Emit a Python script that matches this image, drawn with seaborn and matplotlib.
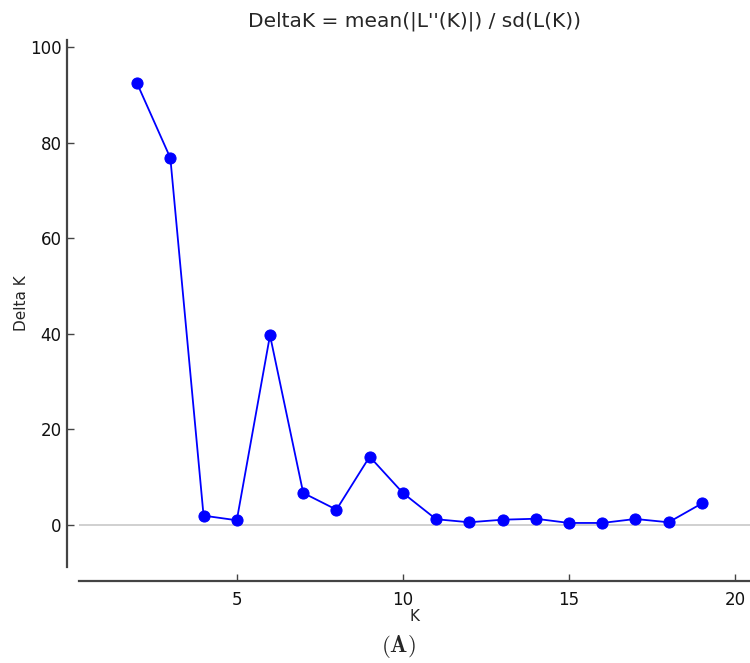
import matplotlib
matplotlib.use('Agg')
import matplotlib.pyplot as plt
import seaborn as sns
import pandas as pd

# valores
k_values = [2, 3, 4, 5, 6, 7, 8, 9, 10, 11, 12, 13, 14, 15, 16, 17, 18, 19]
delta_k = [92.4, 76.8, 1.95, 0.98, 39.7, 6.7, 3.2, 14.3, 6.7, 1.2, 0.56,
           1.1, 1.3, 0.42, 0.42, 1.25, 0.56, 4.5]
x_ticks = [5, 10, 15, 20]
y_ticks = [0, 20, 40, 60, 80, 100]

df = pd.DataFrame({'K': k_values, 'DeltaK': delta_k})

sns.set_style('white')
plt.rcParams['font.family'] = ['DejaVu Sans']
plt.rcParams['mathtext.fontset'] = 'cm'

fig = plt.figure(figsize=(7.5, 6.63), dpi=100)
ax = fig.add_axes([79 / 750, 1 - 567 / 663, (750 - 79) / 750, (567 - 40) / 663])

ax.axhline(0, color='#c8c8c8', linewidth=1.2, zorder=1)
sns.lineplot(data=df, x='K', y='DeltaK', ax=ax, color='#0000ff', marker='o',
             markersize=8, markeredgecolor='#0000ff', linewidth=1.3, zorder=3)

ax.set_xlim(0.25, 20.45)
ax.set_ylim(-8.8, 101.5)
ax.set_xticks(x_ticks)
ax.set_yticks(y_ticks)

for side in ['top', 'right']:
    ax.spines[side].set_visible(False)
ax.spines['left'].set_position(('outward', 9))
ax.spines['bottom'].set_position(('outward', 10))
for side in ['left', 'bottom']:
    ax.spines[side].set_color('#444444')
    ax.spines[side].set_linewidth(1.6)

ax.tick_params(direction='in', length=5, width=1, colors='#444444',
               labelcolor='#111111', labelsize=12, left=True, bottom=True)
ax.tick_params(axis='x', pad=7)

ax.set_title("DeltaK = mean(|L''(K)|) / sd(L(K))", fontsize=14.5, pad=10)
ax.set_xlabel('K', fontsize=11, labelpad=0)
ax.set_ylabel('Delta K', fontsize=11, labelpad=1)

fig.text(398 / 750, 1 - 647 / 663, r'$\mathbf{(A)}$', ha='center', va='center',
         fontsize=16.5)

fig.savefig('out.png', dpi=100)
